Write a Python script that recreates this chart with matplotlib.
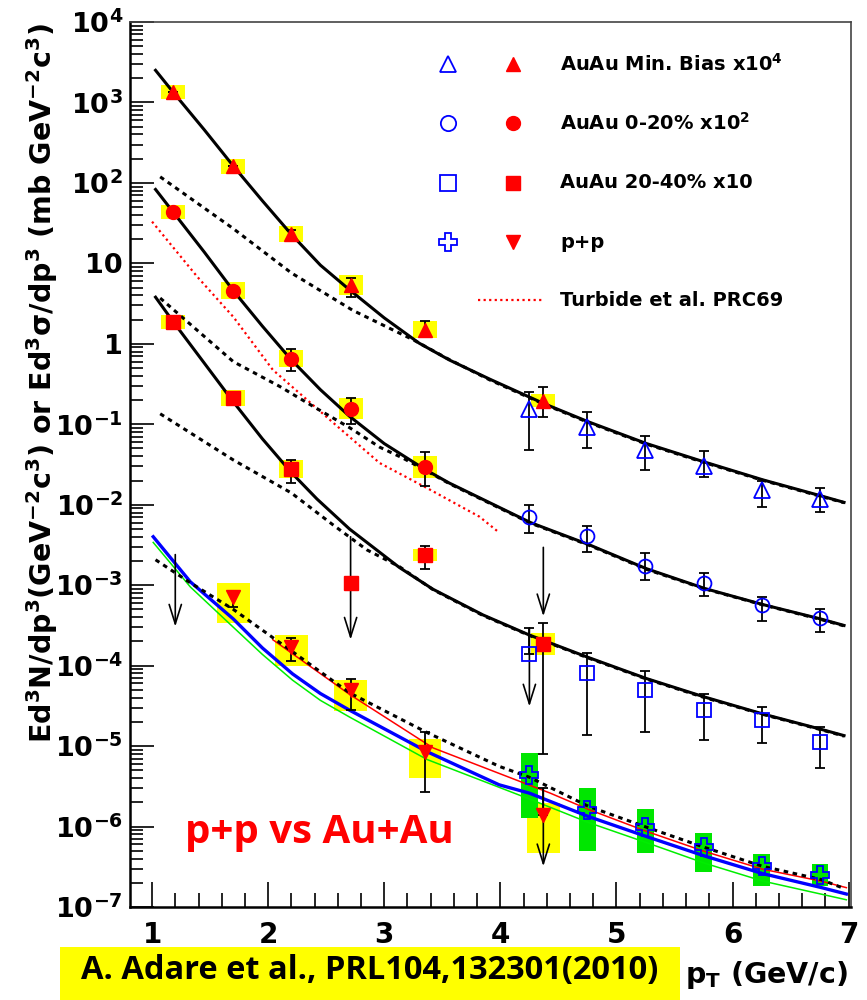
import numpy as np
import matplotlib
matplotlib.use("Agg")
import matplotlib.pyplot as plt
from matplotlib.patches import Rectangle
from matplotlib.ticker import LogLocator, MultipleLocator, FuncFormatter, NullFormatter

plt.rcParams["font.family"] = "DejaVu Sans"
plt.rcParams["font.weight"] = "bold"
plt.rcParams["mathtext.fontset"] = "custom"
plt.rcParams["mathtext.rm"] = "DejaVu Sans:bold"
plt.rcParams["mathtext.it"] = "DejaVu Sans:bold:italic"
plt.rcParams["mathtext.bf"] = "DejaVu Sans:bold"
plt.rcParams["mathtext.default"] = "rm"

# ---- red filled points (PHENIX, with yellow systematic boxes) ----
mb_x = [1.18, 1.70, 2.20, 2.71, 3.35, 4.37]
mb_y = [1350, 162, 23, 5.4, 1.49, 0.196]
mb_hi = [1350, 162, 26, 6.6, 1.93, 0.29]
mb_lo = [1350, 162, 20, 3.84, 1.22, 0.124]
mb_sys = [0.087, 0.093, 0.10, 0.124, 0.106, 0.081]   # half height, decades

c020_x = [1.18, 1.70, 2.20, 2.71, 3.35]
c020_y = [44, 4.55, 0.65, 0.156, 0.0297]
c020_hi = [44, 5.0, 0.87, 0.21, 0.045]
c020_lo = [44, 4.0, 0.46, 0.10, 0.017]
c020_sys = [0.087, 0.106, 0.106, 0.13, 0.137]

c2040_x = [1.18, 1.70, 2.20, 3.35, 4.37]
c2040_y = [1.87, 0.213, 0.028, 2.4e-3, 1.87e-4]
c2040_hi = [1.87, 0.213, 0.036, 3.1e-3, 3.4e-4]
c2040_lo = [1.87, 0.213, 0.0187, 1.6e-3, 7.9e-6]
c2040_sys = [0.087, 0.10, 0.112, 0.075, 0.137]
c2040_lim_x = [2.71]
c2040_lim_y = [1.07e-3]

pp_x = [1.70, 2.20, 2.71, 3.35, 4.37]
pp_y = [7.2e-4, 1.72e-4, 5.0e-5, 8.5e-6, 1.41e-6]
pp_hi = [8.5e-4, 2.2e-4, 6.8e-5, 1.48e-5, 3.0e-6]
pp_lo = [5.4e-4, 1.15e-4, 2.8e-5, 2.7e-6, 1.41e-6]
pp_box_top = [1.07e-3, 2.43e-4, 6.7e-5, 1.24e-5, 1.99e-6]
pp_box_bot = [3.4e-4, 1.0e-4, 2.76e-5, 4.06e-6, 4.75e-7]

# ---- blue open points (high pT) ----
bx = [4.25, 4.75, 5.25, 5.75, 6.25, 6.75]
bmb_y = [0.156, 0.093, 0.048, 0.0305, 0.0153, 0.0119]
bmb_hi = [0.254, 0.143, 0.072, 0.046, 0.020, 0.016]
bmb_lo = [0.048, 0.051, 0.027, 0.022, 0.0095, 0.0082]
b020_y = [7.1e-3, 4.1e-3, 1.75e-3, 1.07e-3, 5.6e-4, 3.9e-4]
b020_hi = [9.8e-3, 5.4e-3, 2.5e-3, 1.43e-3, 7.2e-4, 5.1e-4]
b020_lo = [4.4e-3, 2.6e-3, 1.15e-3, 7.4e-4, 3.6e-4, 2.6e-4]
b2040_y = [1.41e-4, 8.2e-5, 5.0e-5, 2.84e-5, 2.1e-5, 1.14e-5]
b2040_hi = [2.95e-4, 1.45e-4, 8.5e-5, 4.5e-5, 3.1e-5, 1.74e-5]
b2040_lo = [1.41e-4, 1.38e-5, 1.48e-5, 1.2e-5, 1.1e-5, 5.4e-6]
bpp_y = [4.4e-6, 1.6e-6, 1.0e-6, 5.6e-7, 3.2e-7, 2.5e-7]
bpp_box_top = [8.1e-6, 3.05e-6, 1.63e-6, 8.4e-7, 4.5e-7, 3.4e-7]
bpp_box_bot = [1.29e-6, 4.9e-7, 4.75e-7, 2.76e-7, 1.8e-7, 1.8e-7]

# ---- upper-limit arrows ----
arrow_x = [1.20, 2.71, 4.25, 4.37, 4.37]
arrow_from = [2.4e-3, 4.0e-3, 2.95e-4, 2.95e-3, 3.0e-6]
arrow_to = [3.05e-4, 2.1e-4, 3.1e-5, 4.1e-4, 3.2e-7]

# ---- curves ----
fit_mb_x = [1.03, 1.18, 1.45, 1.70, 1.95, 2.20, 2.45, 2.70, 3.00, 3.30, 3.56, 3.91, 4.37, 4.76, 5.26, 5.76, 6.26, 6.76, 6.96]
fit_mb_y = [2510, 1350, 457, 162, 60, 22.9, 9.5, 4.7, 2.1, 1.02, 0.63, 0.363, 0.182, 0.107, 0.0575, 0.0339, 0.0204, 0.0129, 0.0107]
fit_020_x = [1.03, 1.18, 1.45, 1.70, 1.95, 2.20, 2.45, 2.70, 3.00, 3.35, 3.56, 4.26, 4.76, 5.26, 5.76, 6.26, 6.76, 6.96]
fit_020_y = [83, 43.7, 13.8, 4.57, 1.66, 0.63, 0.269, 0.126, 0.0575, 0.0275, 0.0186, 6.0e-3, 3.2e-3, 1.6e-3, 9.1e-4, 5.75e-4, 3.8e-4, 3.16e-4]
fit_2040_x = [1.03, 1.18, 1.45, 1.70, 1.95, 2.20, 2.42, 2.70, 3.13, 3.42, 3.85, 4.25, 4.76, 5.26, 5.76, 6.26, 6.76, 6.96]
fit_2040_y = [3.8, 1.9, 0.575, 0.19, 0.066, 0.0251, 0.0118, 5.0e-3, 1.66e-3, 8.9e-4, 4.27e-4, 2.4e-4, 1.26e-4, 6.9e-5, 4.07e-5, 2.51e-5, 1.62e-5, 1.35e-5]

tab_mb_x = [1.07, 1.70, 2.20, 2.73, 3.25, 3.54, 3.91, 4.37, 4.76, 5.26, 5.76, 6.26, 6.76, 6.96]
tab_mb_y = [119, 27, 7.6, 2.6, 1.12, 0.66, 0.355, 0.179, 0.105, 0.0565, 0.0333, 0.0201, 0.0127, 0.0106]
tab_020_x = [1.07, 1.70, 2.10, 2.39, 2.70, 2.96, 3.16, 3.35, 3.56, 4.26, 4.76, 5.26, 5.76, 6.26, 6.76, 6.96]
tab_020_y = [3.7, 0.6, 0.295, 0.166, 0.091, 0.052, 0.038, 0.027, 0.0183, 5.9e-3, 3.15e-3, 1.57e-3, 9.0e-4, 5.7e-4, 3.75e-4, 3.12e-4]
tab_2040_x = [1.07, 1.70, 2.20, 2.56, 2.85, 3.13, 3.42, 3.85, 4.25, 4.76, 5.26, 5.76, 6.26, 6.76, 6.96]
tab_2040_y = [0.135, 0.036, 0.014, 5.6e-3, 2.75e-3, 1.7e-3, 8.8e-4, 4.2e-4, 2.37e-4, 1.24e-4, 6.8e-5, 4.0e-5, 2.48e-5, 1.6e-5, 1.33e-5]
pp_fit_x = [1.03, 1.33, 1.70, 2.21, 2.70, 3.37, 3.99, 4.25, 4.76, 5.26, 5.76, 6.26, 6.76, 6.96]
pp_fit_y = [2.07e-3, 1.07e-3, 5.0e-4, 1.49e-4, 4.6e-5, 1.47e-5, 5.6e-6, 4.1e-6, 1.78e-6, 9.8e-7, 5.5e-7, 3.2e-7, 2.2e-7, 1.7e-7]

red_x = [2.04, 2.70, 3.42, 4.43, 4.76, 5.26, 5.76, 6.26, 6.76, 6.98]
red_y = [2.1e-4, 4.4e-5, 9.5e-6, 2.6e-6, 1.63e-6, 8.7e-7, 4.9e-7, 2.95e-7, 2.1e-7, 1.74e-7]
blue_x = [1.01, 1.33, 1.70, 1.95, 2.21, 2.45, 2.70, 3.37, 3.99, 4.25, 4.76, 5.26, 5.76, 6.26, 6.76, 6.98]
blue_y = [4.0e-3, 1.1e-3, 3.8e-4, 1.66e-4, 7.9e-5, 4.5e-5, 2.8e-5, 8.5e-6, 3.3e-6, 2.6e-6, 1.33e-6, 7.5e-7, 4.3e-7, 2.6e-7, 1.75e-7, 1.45e-7]
green_x = [1.01, 1.33, 1.70, 1.95, 2.21, 2.45, 2.70, 3.37, 4.25, 4.76, 5.26, 5.76, 6.26, 6.98]
green_y = [3.4e-3, 9.5e-4, 3.0e-4, 1.38e-4, 6.6e-5, 3.7e-5, 2.3e-5, 6.8e-6, 2.2e-6, 1.12e-6, 6.3e-7, 3.5e-7, 2.1e-7, 1.23e-7]
turb_x = [1.00, 1.39, 1.70, 2.04, 2.53, 2.96, 3.39, 3.82, 3.99]
turb_y = [33, 6.8, 2.16, 0.475, 0.114, 0.033, 0.0155, 7.1e-3, 4.5e-3]

RED = "#ff0000"
BLUE = "#0000ff"
YEL = "#ffff00"
GRN = "#00e600"

fig = plt.figure(figsize=(8.67, 10), dpi=100)
ax = fig.add_axes([130 / 867, 93 / 1000, 721 / 867, 885 / 1000])
ax.set_yscale("log")

# systematic boxes
def sys_boxes(xs, ys, half_dec, hw):
    for x, y, d in zip(xs, ys, half_dec):
        lo, hi = y / 10 ** d, y * 10 ** d
        ax.add_patch(Rectangle((x - hw, lo), 2 * hw, hi - lo, color=YEL, lw=0, zorder=1))

sys_boxes(mb_x, mb_y, mb_sys, 0.103)
sys_boxes(c020_x, c020_y, c020_sys, 0.103)
sys_boxes(c2040_x, c2040_y, c2040_sys, 0.103)
for x, t, b in zip(pp_x, pp_box_top, pp_box_bot):
    ax.add_patch(Rectangle((x - 0.14, b), 0.28, t - b, color=YEL, lw=0, zorder=1))
for x, t, b in zip(bx, bpp_box_top, bpp_box_bot):
    ax.add_patch(Rectangle((x - 0.07, b), 0.14, t - b, color=GRN, lw=0, zorder=1))

# curves
ax.plot(turb_x, turb_y, color=RED, lw=1.6, ls=(0, (1, 1.5)), zorder=2)
ax.plot(green_x, green_y, color="#00ee00", lw=1.1, zorder=2)
ax.plot(red_x, red_y, color=RED, lw=1.1, zorder=2)
ax.plot(blue_x, blue_y, color=BLUE, lw=2.4, zorder=2)
for cx, cy in [(tab_mb_x, tab_mb_y), (tab_020_x, tab_020_y), (tab_2040_x, tab_2040_y), (pp_fit_x, pp_fit_y)]:
    ax.plot(cx, cy, color="black", lw=2.2, ls=(0, (1.5, 1.5)), zorder=3)
for cx, cy in [(fit_mb_x, fit_mb_y), (fit_020_x, fit_020_y), (fit_2040_x, fit_2040_y)]:
    ax.plot(cx, cy, color="black", lw=2.2, zorder=3)

# error bars
def errs(xs, ys, lo, hi):
    yerr = [np.array(ys) - np.array(lo), np.array(hi) - np.array(ys)]
    ax.errorbar(xs, ys, yerr=yerr, fmt="none", ecolor="black", elinewidth=1.3,
                capsize=3.5, capthick=1.3, zorder=4)

errs(mb_x, mb_y, mb_lo, mb_hi)
errs(c020_x, c020_y, c020_lo, c020_hi)
errs(c2040_x, c2040_y, c2040_lo, c2040_hi)
errs(pp_x, pp_y, pp_lo, pp_hi)
errs(bx, bmb_y, bmb_lo, bmb_hi)
errs(bx, b020_y, b020_lo, b020_hi)
errs(bx, b2040_y, b2040_lo, b2040_hi)

for x, y0, y1 in zip(arrow_x, arrow_from, arrow_to):
    ax.annotate("", xy=(x, y1), xytext=(x, y0),
                arrowprops=dict(arrowstyle="->,head_length=0.7,head_width=0.22",
                                lw=1.2, color="black", mutation_scale=20,
                                shrinkA=0, shrinkB=0), zorder=4)

# markers
ax.plot(mb_x, mb_y, "^", color=RED, ms=10, ls="none", zorder=5)
ax.plot(c020_x, c020_y, "o", color=RED, ms=10, ls="none", zorder=5)
ax.plot(c2040_x, c2040_y, "s", color=RED, ms=9.5, ls="none", zorder=5)
ax.plot(c2040_lim_x, c2040_lim_y, "s", color=RED, ms=9.5, ls="none", zorder=5)
ax.plot(pp_x, pp_y, "v", color=RED, ms=10, ls="none", zorder=5)
open_kw = dict(mfc="none", mec=BLUE, mew=1.3, ls="none", zorder=5)
ax.plot(bx, bmb_y, "^", ms=11, **open_kw)
ax.plot(bx, b020_y, "o", ms=10, **open_kw)
ax.plot(bx, b2040_y, "s", ms=10, **open_kw)
ax.plot(bx, bpp_y, "P", ms=13, **open_kw)

# axes
ax.set_xlim(0.81, 7.02)
ax.set_ylim(1e-7, 1e4)

def yfmt(v, pos):
    e = int(round(np.log10(v)))
    if e == 0:
        return "1"
    if e == 1:
        return "10"
    return r"10$^{%d}$" % e

ax.yaxis.set_major_locator(LogLocator(base=10, numticks=20))
ax.yaxis.set_minor_locator(LogLocator(base=10, subs=np.arange(2, 10), numticks=20))
ax.yaxis.set_major_formatter(FuncFormatter(yfmt))
ax.yaxis.set_minor_formatter(NullFormatter())
ax.xaxis.set_major_locator(MultipleLocator(1))
ax.xaxis.set_minor_locator(MultipleLocator(0.2))
ax.tick_params(which="both", direction="in", top=False, right=False)
ax.tick_params(axis="y", which="major", length=17, width=1.2, labelsize=19.5, pad=5)
ax.tick_params(axis="y", which="minor", length=9, width=1.2)
ax.tick_params(axis="x", which="major", length=18, width=1.2, labelsize=20, pad=10)
ax.tick_params(axis="x", which="minor", length=10, width=1.2)
for s in ["left", "bottom"]:
    ax.spines[s].set_linewidth(1.8)
for s in ["top", "right"]:
    ax.spines[s].set_linewidth(1.2)
    ax.spines[s].set_color("#444444")

# legend (hand placed)
leg_rows = [("^", "AuAu Min. Bias x10$^{4}$"), ("o", "AuAu 0-20% x10$^{2}$"),
            ("s", "AuAu 20-40% x10"), ("P", "p+p")]
red_marks = ["^", "o", "s", "v"]
row_y = [64, 123, 183, 242]
for (m, lab), rm, yy in zip(leg_rows, red_marks, row_y):
    fy = 1 - yy / 1000
    ax.plot([448 / 867], [fy], m, ms=11 if m != "P" else 13, mfc="none", mec=BLUE, mew=1.3,
            transform=fig.transFigure, clip_on=False)
    ax.plot([513 / 867], [fy], rm, ms=10, color=RED, transform=fig.transFigure, clip_on=False)
    fig.text(560 / 867, fy, lab, fontsize=14, va="center")
ax.plot([478 / 867, 543 / 867], [0.7, 0.7], color=RED, lw=1.6, ls=(0, (1, 1.5)),
        transform=fig.transFigure, clip_on=False)
fig.text(560 / 867, 0.7, "Turbide et al. PRC69", fontsize=14, va="center")

# labels
fig.text(42 / 867, 1 - 383 / 1000,
         r"Ed$^{3}$N/dp$^{3}$(GeV$^{-2}$c$^{3}$) or Ed$^{3}$σ/dp$^{3}$ (mb GeV$^{-2}$c$^{3}$)",
         rotation=90, ha="center", va="center", fontsize=20.5)
fig.text(685 / 867, 1 - 975 / 1000, r"p$_{T}$ (GeV/c)", fontsize=20.5, va="center")
fig.text(185 / 867, 1 - 833 / 1000, "p+p vs Au+Au", color=RED, fontsize=29,
         family="Open Sans", weight="bold", va="center")
fig.add_artist(Rectangle((60 / 867, 0), 620 / 867, 53 / 1000, color=YEL,
                         transform=fig.transFigure, lw=0))
fig.text(370 / 867, 1 - 971 / 1000, "A. Adare et al., PRL104,132301(2010)",
         fontsize=23.5, family="Open Sans", weight="bold", ha="center", va="center")

fig.savefig("out.png", dpi=100)
